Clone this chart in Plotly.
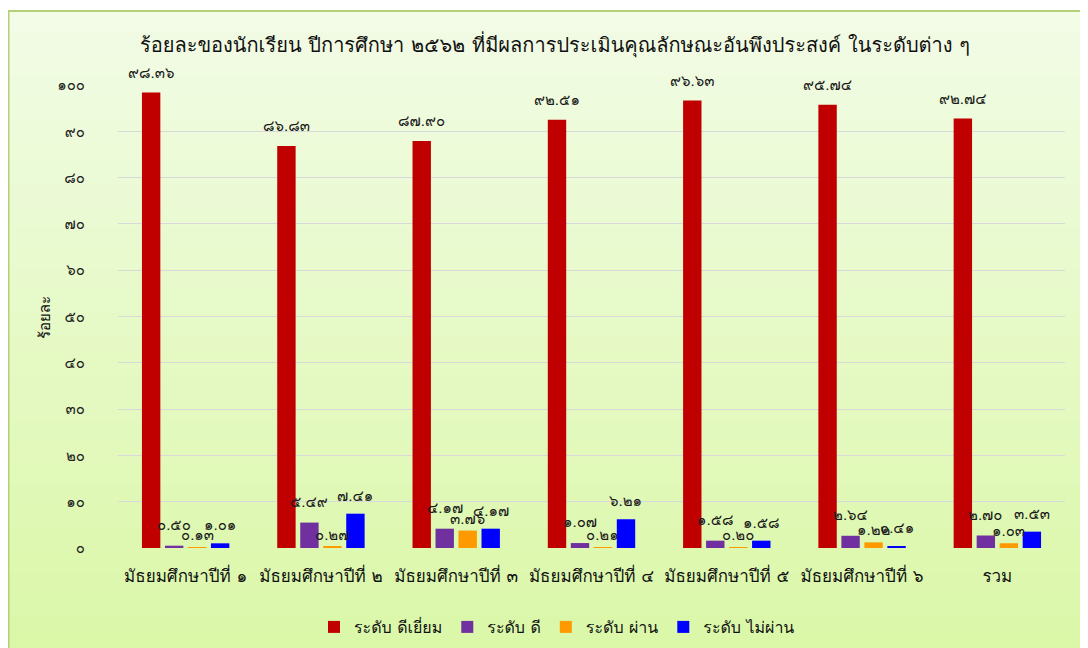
import plotly.graph_objects as go

categories = ["มัธยมศึกษาปีที่ ๑", "มัธยมศึกษาปีที่ ๒", "มัธยมศึกษาปีที่ ๓",
              "มัธยมศึกษาปีที่ ๔", "มัธยมศึกษาปีที่ ๕", "มัธยมศึกษาปีที่ ๖", "รวม"]

excellent = [98.36, 86.83, 87.90, 92.51, 96.63, 95.74, 92.74]
good = [0.50, 5.49, 4.17, 1.07, 1.58, 2.64, 2.70]
passed = [0.13, 0.27, 3.76, 0.21, 0.20, 1.22, 1.03]
failed = [1.01, 7.41, 4.17, 6.21, 1.58, 0.41, 3.53]

series_names = ["ระดับ ดีเยี่ยม", "ระดับ ดี", "ระดับ ผ่าน", "ระดับ ไม่ผ่าน"]
series_colors = ["#c00000", "#7030a0", "#ff9900", "#0000ff"]
label_lift = [20, 21, 12, 18]  # px above bar top for each series' labels

y_ticks = [0, 10, 20, 30, 40, 50, 60, 70, 80, 90, 100]

THAI_DIGITS = str.maketrans("0123456789", "๐๑๒๓๔๕๖๗๘๙")


def thai(value, fmt="{:.2f}"):
    return fmt.format(value).translate(THAI_DIGITS)


FONT = "Tahoma, Loma, Garuda, Norasi, 'Noto Sans Thai Looped', 'Noto Sans Thai', sans-serif"

# figure pixel geometry (page has an 8px body margin)
FW, FH = 1088, 648
L, T, W, H = 110, 77, 947, 463
BARGAP = 0.32
slot = W / len(categories) * (1 - BARGAP) / len(series_names)


def px_x(px):
    return (px - L) / W


def px_y(py):
    return (T + H - py) / H


fig = go.Figure()
annotations = []

all_values = [excellent, good, passed, failed]
for k, (name, color, values) in enumerate(zip(series_names, series_colors, all_values)):
    fig.add_trace(go.Bar(
        x=categories, y=values, name=name,
        marker=dict(color=color, line=dict(width=0)),
    ))
    for cat, v in zip(categories, values):
        annotations.append(dict(
            x=cat, y=v, xref="x", yref="y",
            text=thai(v), showarrow=False,
            xshift=(k - 1.5) * slot, yshift=label_lift[k],
            yanchor="middle", xanchor="center",
            font=dict(size=15, color="#1a1a1a", family=FONT),
        ))

# y axis title
annotations.append(dict(
    x=px_x(37), y=px_y(310), xref="paper", yref="paper",
    text="ร้อยละ", showarrow=False, textangle=-90,
    xanchor="center", yanchor="middle",
    font=dict(size=15, color="#111111", family=FONT),
))

# light green gradient frame behind the chart
shapes = []
top_px, bottom_px = 3, FH + 2
n_bands = 30
c_top = (242, 252, 230)
c_bottom = (219, 248, 168)
for i in range(n_bands):
    t = i / (n_bands - 1)
    r, g, b = [int(a + (bb - a) * t) for a, bb in zip(c_top, c_bottom)]
    y0_px = top_px + (bottom_px - top_px) * i / n_bands
    y1_px = top_px + (bottom_px - top_px) * (i + 1) / n_bands + 1
    shapes.append(dict(
        type="rect", xref="paper", yref="paper", layer="below",
        x0=px_x(0), x1=px_x(FW + 5), y0=px_y(y1_px), y1=px_y(y0_px),
        fillcolor=f"rgb({r},{g},{b})", line=dict(width=0),
    ))
shapes.append(dict(
    type="rect", xref="paper", yref="paper", layer="below",
    x0=px_x(0.5), x1=px_x(FW + 5), y0=px_y(FH + 5), y1=px_y(top_px),
    fillcolor="rgba(0,0,0,0)", line=dict(width=2, color="#b3cf78"),
))

fig.update_layout(
    width=FW, height=FH,
    paper_bgcolor="white",
    plot_bgcolor="rgba(0,0,0,0)",
    margin=dict(l=L, r=FW - L - W, t=T, b=FH - T - H, autoexpand=False),
    font=dict(family=FONT, color="#222222"),
    title=dict(
        text="ร้อยละของนักเรียน ปีการศึกษา ๒๕๖๒ ที่มีผลการประเมินคุณลักษณะอันพึงประสงค์ ในระดับต่าง ๆ",
        x=547 / FW, xanchor="center", y=1 - 37 / FH, yanchor="middle",
        yref="container", font=dict(size=20, color="#111111"),
    ),
    barmode="group",
    bargap=BARGAP,
    bargroupgap=0.2,
    showlegend=True,
    legend=dict(
        orientation="h", x=px_x(549), xanchor="center",
        yref="container", y=1 - 619 / FH, yanchor="middle",
        font=dict(size=16, color="#111111"),
        bgcolor="rgba(0,0,0,0)",
        traceorder="normal", itemwidth=30,
    ),
    shapes=shapes,
    annotations=annotations,
)

fig.update_xaxes(
    tickfont=dict(size=17, color="#111111"),
    showgrid=False, showline=False, ticks="",
    ticklabelstandoff=16, automargin=False,
)
fig.update_yaxes(
    range=[0, 100],
    tickvals=y_ticks,
    ticktext=[thai(v, "{:d}") for v in y_ticks],
    tickfont=dict(size=15, color="#222222"),
    gridcolor="#d9d9d9", gridwidth=1,
    zeroline=False, showline=False,
    ticks="", ticklabelstandoff=32, automargin=False,
)

fig.write_html("out.html")
